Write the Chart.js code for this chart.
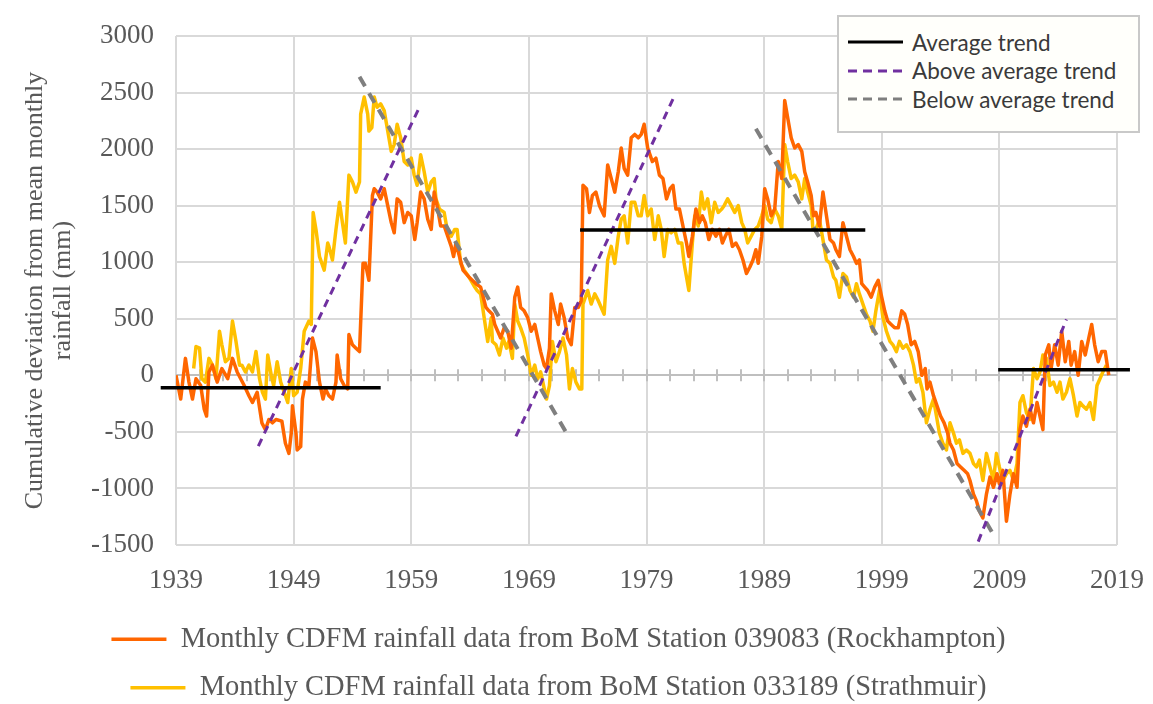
<!DOCTYPE html>
<html>
<head>
<meta charset="utf-8">
<script src="https://cdn.jsdelivr.net/npm/chart.js@4.4.1/dist/chart.umd.min.js"></script>
<style>
    html, body { margin: 0; padding: 0; background: #ffffff; }
    #quadro { position: relative; width: 1153px; height: 704px; }
    #legenda-tendencias {
        position: absolute; left: 837px; top: 15px; width: 303px; height: 118px;
        border: 2px solid #c9c9c9; background: #fffffb;
        font-family: 'Lato', 'Liberation Sans', sans-serif; font-size: 22.5px; color: #3a3a3a;
        padding-top: 11px; box-sizing: border-box;
    }
    #legenda-tendencias .item { height: 28.5px; display: flex; align-items: center; padding-left: 9px; }
    #legenda-tendencias svg { margin-right: 9px; }
</style>
</head>
<body>
<div id="quadro">
    <canvas id="grafico-cdfm" width="1153" height="704"></canvas>
    <div id="legenda-tendencias"></div>
</div>
<script>
// Eixos
const anoInicial = 1939;
const anoFinal = 2019;
const passoAnos = 10;
const valorMinimo = -1500;
const valorMaximo = 3000;
const passoValores = 500;
const tituloEixoY = ['Cumulative deviation from mean monthly', 'rainfall (mm)'];

// Series mensais - Rockhampton
const anosRockhampton = [
    1939.0, 1939.4, 1939.8, 1940.1, 1940.4, 1940.7, 1941.1, 1941.4, 1941.6, 1941.8,
    1942.1, 1942.5, 1942.9, 1943.4, 1943.8, 1944.2, 1944.5, 1944.8, 1945.2, 1945.5,
    1945.9, 1946.3, 1946.6, 1946.9, 1947.2, 1947.5, 1948.0, 1948.3, 1948.6, 1948.8,
    1948.9, 1949.2, 1949.3, 1949.6, 1949.75, 1950.0, 1950.3, 1950.6, 1950.9, 1951.2,
    1951.5, 1951.7, 1952.0, 1952.3, 1952.6, 1952.7, 1953.0, 1953.3, 1953.6, 1953.7,
    1954.0, 1954.3, 1954.6, 1954.9, 1955.1, 1955.4, 1955.7, 1955.85, 1956.1, 1956.4,
    1956.7, 1957.0, 1957.3, 1957.55, 1957.8, 1958.1, 1958.4, 1958.7, 1959.0, 1959.3,
    1959.5, 1959.8, 1960.1, 1960.4, 1960.7, 1960.95, 1961.2, 1961.5, 1961.8, 1962.1,
    1962.4, 1962.6, 1962.8, 1963.1, 1963.4, 1963.9, 1964.5, 1964.9, 1965.35, 1965.6,
    1965.9, 1966.1, 1966.35, 1966.6, 1966.9, 1967.2, 1967.5, 1967.8, 1968.05, 1968.3,
    1968.6, 1968.9, 1969.2, 1969.5, 1969.75, 1970.0, 1970.3, 1970.5, 1970.75, 1970.9,
    1971.2, 1971.5, 1971.7, 1972.0, 1972.3, 1972.6, 1972.9, 1973.2, 1973.45, 1973.6,
    1973.9, 1974.15, 1974.4, 1974.7, 1975.0, 1975.4, 1975.7, 1976.0, 1976.3, 1976.6,
    1976.85, 1977.1, 1977.4, 1977.7, 1978.0, 1978.3, 1978.55, 1978.8, 1979.1, 1979.5,
    1979.8, 1980.1, 1980.4, 1980.7, 1981.0, 1981.25, 1981.5, 1981.8, 1982.1, 1982.4,
    1982.6, 1982.9, 1983.2, 1983.5, 1983.75, 1984.0, 1984.3, 1984.6, 1984.9, 1985.2,
    1985.45, 1985.7, 1986.0, 1986.3, 1986.6, 1986.9, 1987.2, 1987.5, 1987.8, 1988.05,
    1988.3, 1988.5, 1988.8, 1989.05, 1989.3, 1989.6, 1989.9, 1990.2, 1990.5, 1990.75,
    1991.0, 1991.3, 1991.6, 1991.9, 1992.2, 1992.45, 1992.7, 1993.0, 1993.2, 1993.4,
    1993.7, 1994.0, 1994.3, 1994.6, 1994.9, 1995.1, 1995.4, 1995.7, 1996.0, 1996.3,
    1996.6, 1996.85, 1997.1, 1997.3, 1997.55, 1997.8, 1998.1, 1998.4, 1998.7, 1999.0,
    1999.25, 1999.5, 1999.8, 2000.1, 2000.4, 2000.7, 2000.95, 2001.2, 2001.5, 2001.8,
    2002.1, 2002.4, 2002.7, 2002.85, 2003.1, 2003.4, 2003.7, 2004.0, 2004.3, 2004.6,
    2004.8, 2005.1, 2005.4, 2005.7, 2006.0, 2006.3, 2006.5, 2006.8, 2007.05, 2007.3,
    2007.6, 2007.9, 2008.2, 2008.5, 2008.8, 2009.0, 2009.3, 2009.6, 2009.9, 2010.2,
    2010.5, 2010.75, 2011.0, 2011.3, 2011.6, 2011.9, 2012.2, 2012.45, 2012.7, 2012.9,
    2013.2, 2013.4, 2013.7, 2014.0, 2014.3, 2014.6, 2014.9, 2015.1, 2015.4, 2015.7,
    2016.0, 2016.3, 2016.6, 2016.85, 2017.1, 2017.4, 2017.7, 2018.0, 2018.3
];
const cdfmRockhampton = [
    0, -210, 150, -60, -210, -30, -90, -300, -360, 30,
    90, -60, 60, -30, 150, 30, -30, -90, -180, -240,
    -150, -420, -480, -390, -420, -390, -405, -600, -690, -510,
    -270, -510, -660, -630, -210, -60, -90, 330, 210, -60,
    -210, -120, -180, -210, -60, 180, -30, -90, -120, 360,
    270, 240, 210, 990, 990, 840, 1590, 1650, 1620, 1560,
    1650, 1500, 1350, 1260, 1560, 1530, 1350, 1440, 1410, 1200,
    1350, 1620, 1560, 1380, 1290, 1620, 1500, 1320, 1320, 1230,
    1140, 1050, 1170, 1050, 930, 870, 810, 780, 600, 570,
    540, 450, 390, 330, 420, 390, 240, 690, 780, 600,
    570, 510, 390, 450, 330, 210, 90, 60, 240, 720,
    570, 450, 630, 510, 330, 270, 600, 600, 660, 1680,
    1650, 1440, 1590, 1620, 1500, 1410, 1860, 1740, 1620, 1800,
    2010, 1830, 1770, 2100, 2130, 2100, 2130, 2220, 2010, 1890,
    1920, 1770, 1740, 1560, 1650, 1680, 1470, 1470, 1320, 1170,
    1050, 1230, 1470, 1350, 1410, 1350, 1200, 1290, 1230, 1290,
    1170, 1230, 1290, 1140, 1170, 1110, 1020, 900, 960, 1020,
    1110, 990, 1230, 1650, 1560, 1410, 1470, 1890, 1740, 2430,
    2280, 2100, 2010, 2040, 1980, 1800, 1710, 1590, 1410, 1440,
    1320, 1620, 1410, 1200, 1170, 1110, 1050, 1350, 1230, 1110,
    1050, 990, 1020, 810, 780, 750, 690, 780, 840, 690,
    570, 480, 450, 420, 420, 570, 540, 450, 270, 300,
    210, 0, 60, -120, -60, -180, -270, -360, -420, -510,
    -600, -660, -780, -810, -840, -870, -930, -1050, -1110, -1200,
    -1260, -1050, -900, -990, -870, -960, -840, -1290, -1050, -870,
    -990, -480, -360, -450, -300, -420, -240, -360, -480, 180,
    270, 60, 270, 90, 390, 120, 300, 90, 210, 0,
    300, 180, 330, 450, 270, 120, 210, 210, 0
];

// Series mensais - Strathmuir
const anosStrathmuir = [
    1940.5, 1940.7, 1941.0, 1941.2, 1941.5, 1941.8, 1942.1, 1942.4, 1942.7, 1942.9,
    1943.2, 1943.5, 1943.8, 1944.1, 1944.4, 1944.6, 1944.9, 1945.2, 1945.5, 1945.8,
    1946.1, 1946.35, 1946.6, 1946.8, 1947.1, 1947.3, 1947.6, 1947.9, 1948.2, 1948.5,
    1948.8, 1949.0, 1949.3, 1949.6, 1949.9, 1950.3, 1950.5, 1950.66, 1950.9, 1951.2,
    1951.6, 1951.9, 1952.0, 1952.3, 1952.6, 1952.9, 1953.15, 1953.4, 1953.7, 1954.0,
    1954.3, 1954.6, 1954.7, 1955.0, 1955.3, 1955.4, 1955.65, 1955.85, 1956.1, 1956.4,
    1956.7, 1957.0, 1957.3, 1957.55, 1957.8, 1958.1, 1958.4, 1958.7, 1959.0, 1959.25,
    1959.5, 1959.8, 1960.1, 1960.4, 1960.7, 1960.95, 1961.1, 1961.4, 1961.8, 1962.1,
    1962.4, 1962.7, 1962.9, 1963.2, 1963.5, 1963.9, 1964.4, 1964.6, 1964.9, 1965.2,
    1965.5, 1965.8, 1965.9, 1966.2, 1966.5, 1966.8, 1967.1, 1967.3, 1967.6, 1967.8,
    1968.05, 1968.3, 1968.6, 1968.9, 1969.2, 1969.5, 1969.75, 1970.0, 1970.5, 1970.75,
    1971.0, 1971.3, 1971.6, 1971.9, 1972.2, 1972.45, 1972.7, 1973.0, 1973.3, 1973.5,
    1973.6, 1974.0, 1974.3, 1974.6, 1974.9, 1975.15, 1975.4, 1975.7, 1976.0, 1976.3,
    1976.6, 1976.85, 1977.1, 1977.4, 1977.7, 1978.0, 1978.3, 1978.55, 1978.8, 1979.1,
    1979.4, 1979.7, 1980.0, 1980.25, 1980.5, 1980.8, 1981.1, 1981.4, 1981.7, 1982.0,
    1982.2, 1982.6, 1982.9, 1983.1, 1983.4, 1983.66, 1983.9, 1984.2, 1984.5, 1984.8,
    1985.1, 1985.4, 1985.6, 1985.9, 1986.2, 1986.5, 1986.8, 1987.1, 1987.35, 1987.6,
    1987.9, 1988.2, 1988.5, 1988.8, 1989.05, 1989.3, 1989.6, 1989.9, 1990.2, 1990.5,
    1990.75, 1991.0, 1991.3, 1991.6, 1991.9, 1992.2, 1992.45, 1992.7, 1993.0, 1993.15,
    1993.4, 1993.7, 1994.0, 1994.3, 1994.6, 1994.9, 1995.1, 1995.4, 1995.7, 1996.0,
    1996.3, 1996.6, 1996.85, 1997.1, 1997.4, 1997.7, 1998.0, 1998.25, 1998.5, 1998.8,
    1999.1, 1999.4, 1999.7, 1999.95, 2000.25, 2000.5, 2000.8, 2001.1, 2001.4, 2001.7,
    2001.95, 2002.2, 2002.5, 2002.8, 2003.1, 2003.4, 2003.65, 2003.9, 2004.2, 2004.5,
    2004.8, 2005.1, 2005.35, 2005.6, 2005.9, 2006.2, 2006.5, 2006.8, 2007.05, 2007.3,
    2007.6, 2007.9, 2008.2, 2008.5, 2008.75, 2009.0, 2009.3, 2009.6, 2009.9, 2010.2,
    2010.5, 2010.75, 2011.0, 2011.3, 2011.6, 2011.9, 2012.2, 2012.45, 2012.7, 2013.0,
    2013.3, 2013.6, 2013.9, 2014.15, 2014.4, 2014.7, 2015.0, 2015.3, 2015.6, 2015.85,
    2016.1, 2016.4, 2016.7, 2017.0, 2017.3, 2017.55, 2017.8, 2018.1
];
const cdfmStrathmuir = [
    60, 255, 240, -30, -60, 150, 90, -30, 390, 270,
    120, 150, 480, 300, 90, 90, 30, 90, 30, 210,
    -30, -150, -210, 180, 0, -90, 120, -60, -150, -240,
    60, -180, -150, 60, 390, 480, 450, 1440, 1290, 1050,
    930, 1170, 1140, 1020, 1290, 1530, 1350, 1170, 1770, 1710,
    1620, 1710, 2310, 2460, 2310, 2160, 2190, 2460, 2370, 2400,
    2340, 2160, 1980, 2040, 2220, 2100, 1890, 1860, 1920, 1770,
    1680, 1950, 1800, 1620, 1710, 1740, 1560, 1470, 1440, 1260,
    1230, 1290, 1290, 990, 930, 870, 780, 750, 720, 510,
    300, 510, 300, 270, 180, 330, 240, 300, 150, 630,
    480, 420, 330, 180, 0, 90, -30, 30, -210, -90,
    300, 120, 210, 330, 180, -120, 60, -60, -120, -120,
    630, 750, 630, 720, 660, 600, 540, 1020, 1140, 990,
    1230, 1380, 1410, 1170, 1530, 1530, 1410, 1410, 1590, 1410,
    1470, 1200, 1410, 1290, 1050, 1290, 1260, 1290, 1170, 1170,
    990, 750, 1170, 1410, 1320, 1620, 1470, 1560, 1350, 1530,
    1440, 1470, 1500, 1560, 1500, 1440, 1500, 1350, 1290, 1170,
    1230, 1290, 1320, 1410, 1500, 1380, 1350, 1470, 1410, 1290,
    2040, 1890, 1740, 1770, 1710, 1560, 1740, 1620, 1500, 1290,
    1290, 1380, 1200, 1020, 990, 870, 840, 690, 900, 870,
    750, 690, 810, 720, 630, 540, 480, 390, 570, 750,
    510, 390, 300, 270, 210, 300, 240, 270, 210, 90,
    -60, -30, -150, -420, -300, -210, -360, -510, -600, -660,
    -420, -510, -600, -570, -690, -660, -690, -780, -810, -750,
    -930, -690, -810, -930, -690, -810, -930, -870, -840, -930,
    -780, -240, -180, -330, -390, 60, -30, 30, 180, 150,
    -90, -60, -150, -60, -210, -150, -30, -180, -360, -240,
    -270, -300, -240, -390, -90, -30, 30, 90
];

// Tendencias: [ano inicial, valor inicial, ano final, valor final]
const tendenciaMedia = [[1937.7, -110, 1956.4, -110], [1973.35, 1285, 1997.6, 1285], [2008.9, 50, 2020.1, 50]];
const tendenciaAcima = [[1946.0, -625, 1959.6, 2350], [1967.9, -540, 1981.4, 2475], [2007.2, -1470, 2014.7, 495]];
const tendenciaAbaixo = [[1954.6, 2640, 1972.45, -555], [1988.3, 2180, 2008.5, -1410]];

const rotulosSeries = [
    'Monthly CDFM rainfall data from BoM Station 039083 (Rockhampton)',
    'Monthly CDFM rainfall data from BoM Station 033189 (Strathmuir)'
];
const rotulosTendencias = ['Average trend', 'Above average trend', 'Below average trend'];

const corCinzaTexto = '#595959';
const fonteSerifa = "'Liberation Serif', 'DejaVu Serif', serif";

function montarPontos(anos, valores) {
    return anos.map((ano, i) => ({ x: ano, y: valores[i] }));
}

// Junta os segmentos numa unica serie, separados por um ponto nulo
function montarSegmentos(segmentos) {
    const pontos = [];
    segmentos.forEach((s, i) => {
        if (i > 0) pontos.push({ x: s[0], y: null });
        pontos.push({ x: s[0], y: s[1] }, { x: s[2], y: s[3] });
    });
    return pontos;
}

// Marcas pequenas sobre a linha do zero (a cada 2 anos)
const marcasLinhaZero = {
    id: 'marcasLinhaZero',
    beforeDatasetsDraw(chart) {
        const { ctx, scales } = chart;
        const y0 = scales.y.getPixelForValue(0);
        ctx.save();
        ctx.strokeStyle = '#bfbfbf';
        ctx.lineWidth = 2;
        ctx.beginPath();
        for (let ano = anoInicial + 2; ano < anoFinal; ano += 2) {
            const px = Math.round(scales.x.getPixelForValue(ano));
            ctx.moveTo(px, y0 - 6);
            ctx.lineTo(px, y0 + 6);
        }
        ctx.stroke();
        ctx.restore();
    }
};

document.addEventListener('DOMContentLoaded', function () {
    const estilosTendencia = [
        { cor: '#000000', largura: 3.5, traco: [] },
        { cor: '#7030a0', largura: 3, traco: [8, 6] },
        { cor: '#7f7f7f', largura: 4, traco: [11, 8] }
    ];

    // Legenda das tendencias (caixa no canto superior direito)
    const legenda = document.getElementById('legenda-tendencias');
    rotulosTendencias.forEach((rotulo, i) => {
        const e = estilosTendencia[i];
        const item = document.createElement('div');
        item.className = 'item';
        item.innerHTML = '<svg width="55" height="10"><line x1="0" y1="5" x2="55" y2="5" stroke="' + e.cor +
            '" stroke-width="3" stroke-dasharray="' + (i === 0 ? 'none' : '9 6') + '"/></svg>' +
            '<span>' + rotulo + '</span>';
        legenda.appendChild(item);
    });

    var ctx = document.getElementById('grafico-cdfm').getContext('2d');

    var grafico = new Chart(ctx, {
        type: 'line',
        data: {
            datasets: [
                {
                    label: rotulosTendencias[0],
                    data: montarSegmentos(tendenciaMedia),
                    borderColor: estilosTendencia[0].cor,
                    borderWidth: estilosTendencia[0].largura,
                    clip: false
                },
                {
                    label: rotulosTendencias[1],
                    data: montarSegmentos(tendenciaAcima),
                    borderColor: estilosTendencia[1].cor,
                    borderWidth: estilosTendencia[1].largura,
                    borderDash: estilosTendencia[1].traco
                },
                {
                    label: rotulosTendencias[2],
                    data: montarSegmentos(tendenciaAbaixo),
                    borderColor: estilosTendencia[2].cor,
                    borderWidth: estilosTendencia[2].largura,
                    borderDash: estilosTendencia[2].traco
                },
                {
                    label: rotulosSeries[0],
                    data: montarPontos(anosRockhampton, cdfmRockhampton),
                    borderColor: '#ff6600',
                    backgroundColor: '#ff6600',
                    borderWidth: 3.5
                },
                {
                    label: rotulosSeries[1],
                    data: montarPontos(anosStrathmuir, cdfmStrathmuir),
                    borderColor: '#ffc000',
                    backgroundColor: '#ffc000',
                    borderWidth: 3.5
                }
            ]
        },
        options: {
            responsive: false,
            animation: false,
            events: [],
            layout: { padding: { top: 36, right: 36, bottom: -8, left: 0 } },
            elements: {
                point: { radius: 0 },
                line: { tension: 0, borderJoinStyle: 'round' }
            },
            scales: {
                x: {
                    type: 'linear',
                    min: anoInicial,
                    max: anoFinal,
                    border: { display: false },
                    // marca transparente so para afastar os rotulos
                    grid: { color: '#d9d9d9', lineWidth: 2, drawTicks: true, tickLength: 12, tickColor: 'rgba(0,0,0,0)' },
                    ticks: {
                        stepSize: passoAnos,
                        padding: 8,
                        color: corCinzaTexto,
                        font: { family: fonteSerifa, size: 27 },
                        callback: v => String(v)
                    },
                    afterFit: function (escala) { escala.height = 60; }
                },
                y: {
                    min: valorMinimo,
                    max: valorMaximo,
                    border: { display: false },
                    grid: {
                        color: c => (c.tick && c.tick.value === 0 ? '#bfbfbf' : '#d9d9d9'),
                        lineWidth: 2,
                        drawTicks: true,
                        tickLength: 14,
                        tickColor: 'rgba(0,0,0,0)'
                    },
                    ticks: {
                        stepSize: passoValores,
                        padding: 8,
                        color: corCinzaTexto,
                        font: { family: fonteSerifa, size: 27 },
                        callback: v => String(v)
                    },
                    title: {
                        display: true,
                        text: tituloEixoY,
                        color: corCinzaTexto,
                        font: { family: fonteSerifa, size: 26, lineHeight: '28px' },
                        padding: { top: 21, bottom: 0 }
                    },
                    afterFit: function (escala) { escala.width = 176; }
                }
            },
            plugins: {
                tooltip: { enabled: false },
                legend: {
                    position: 'bottom',
                    align: 'center',
                    labels: {
                        filter: item => rotulosSeries.includes(item.text),
                        usePointStyle: true,
                        pointStyle: 'line',
                        pointStyleWidth: 55,
                        padding: 20,
                        color: corCinzaTexto,
                        font: { family: fonteSerifa, size: 28.5 }
                    }
                }
            }
        },
        plugins: [marcasLinhaZero]
    });
});
</script>
</body>
</html>
